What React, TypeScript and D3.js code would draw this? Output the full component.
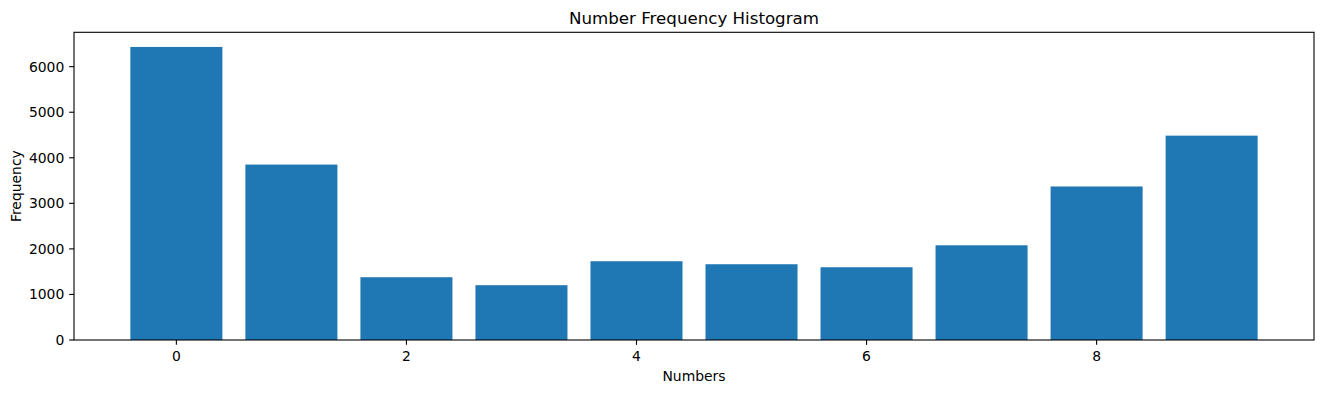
import React from 'react';
import { scaleLinear, range } from 'd3';

// values
const numbers = [0, 1, 2, 3, 4, 5, 6, 7, 8, 9];
const frequencies = [6433, 3851, 1378, 1203, 1729, 1663, 1597, 2079, 3370, 4486];
const xTicks = [0, 2, 4, 6, 8];
const yTicks = [0, 1000, 2000, 3000, 4000, 5000, 6000];

const width = 1324;
const height = 393;
const margin = { left: 74, right: 10, top: 32.3, bottom: 53 };
const barWidth = 0.8;
const font = 'DejaVu Sans, sans-serif';

const App = () => {
    const plotRight = width - margin.right;
    const plotBottom = height - margin.bottom;

    const lo = numbers[0] - barWidth / 2;
    const hi = numbers[numbers.length - 1] + barWidth / 2;
    const pad = (hi - lo) * 0.05;

    const x = scaleLinear()
        .domain([lo - pad, hi + pad])
        .range([margin.left, plotRight]);

    const y = scaleLinear()
        .domain([0, Math.max(...frequencies) * 1.05])
        .range([plotBottom, margin.top]);

    const tickLen = 4.86;

    return (
        <svg width={width} height={height}
            style={{ position: 'absolute', left: 0, top: 0, background: '#fff' }}>
            <text x={(margin.left + plotRight) / 2} y={24} textAnchor="middle"
                fontFamily={font} fontSize={16.67}>Number Frequency Histogram</text>

            {range(numbers.length).map(i => (
                <rect key={i}
                    x={x(numbers[i] - barWidth / 2)}
                    y={y(frequencies[i])}
                    width={x(numbers[i] + barWidth / 2) - x(numbers[i] - barWidth / 2)}
                    height={y(0) - y(frequencies[i])}
                    fill="#1f77b4" />
            ))}

            <rect x={margin.left} y={margin.top}
                width={plotRight - margin.left} height={plotBottom - margin.top}
                fill="none" stroke="#000" strokeWidth={1.1} />

            {xTicks.map(t => (
                <g key={t} transform={`translate(${x(t)},${plotBottom})`}>
                    <line y2={tickLen} stroke="#000" strokeWidth={1.1} />
                    <text y={20.5} textAnchor="middle" fontFamily={font} fontSize={13.9}>{t}</text>
                </g>
            ))}

            {yTicks.map(t => (
                <g key={t} transform={`translate(${margin.left},${y(t)})`}>
                    <line x2={-tickLen} stroke="#000" strokeWidth={1.1} />
                    <text x={-tickLen - 4.86} dy="0.36em" textAnchor="end"
                        fontFamily={font} fontSize={13.9}>{t}</text>
                </g>
            ))}

            <text x={(margin.left + plotRight) / 2} y={381} textAnchor="middle"
                fontFamily={font} fontSize={13.9}>Numbers</text>
            <text transform={`translate(21,${(margin.top + plotBottom) / 2}) rotate(-90)`}
                textAnchor="middle" fontFamily={font} fontSize={13.9}>Frequency</text>
        </svg>
    );
};

export default App;
